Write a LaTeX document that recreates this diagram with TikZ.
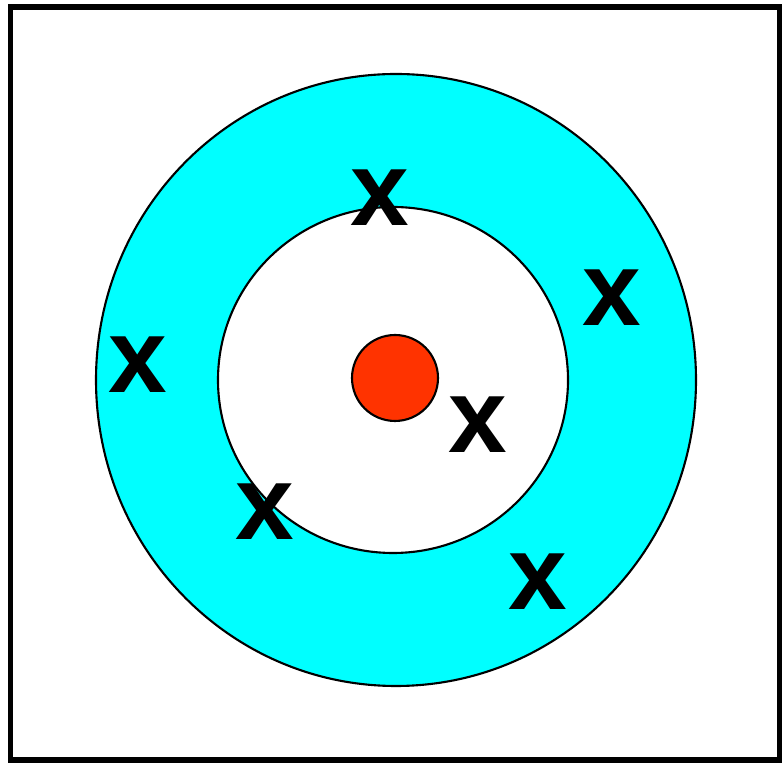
\documentclass[tikz,border=0pt]{standalone}
\usepackage{fontspec}
\setsansfont{Liberation Sans}
\usetikzlibrary{positioning}

\definecolor{ringcyan}{RGB}{0,255,255}
\definecolor{dotred}{RGB}{255,51,0}

\begin{document}
\begin{tikzpicture}[
    % Styles
    frame/.style={draw=black, line width=1.5pt},
    ring/.style={draw=black, line width=0.6pt, fill=#1},
    ring/.default={white},
    cross/.style={font=\fontsize{30}{30}\selectfont\sffamily\bfseries, inner sep=0pt},
]

% ================================================================
% FRAME
% ================================================================
\useasboundingbox (0,0) rectangle (7.82,7.65);
\draw[frame] (0.105,0.05) rectangle (7.80,7.58);

% ================================================================
% RINGS
% ================================================================
\coordinate (centre) at (3.96,3.85);
\draw[ring=ringcyan] (centre) ellipse [x radius=3.0cm, y radius=3.06cm];
\draw[ring=white] (3.93,3.85) ellipse [x radius=1.75cm, y radius=1.73cm];
\node[circle, fill=dotred, draw=black, line width=0.6pt, minimum size=0.86cm, inner sep=0pt]
    (dot) at (3.95,3.87) {};

% ================================================================
% MARKS
% ================================================================
\node[cross] (xtop) at (3.80,5.67) {x};
\node[cross] (xright) at (6.12,4.67) {x};
\node[cross] (xleft) at (1.38,4.00) {x};
\node[cross] (xcentre) at (4.78,3.40) {x};
\node[cross] (xlow) at (2.65,2.53) {x};
\node[cross] (xbottom) at (5.38,1.83) {x};

\end{tikzpicture}
\end{document}
